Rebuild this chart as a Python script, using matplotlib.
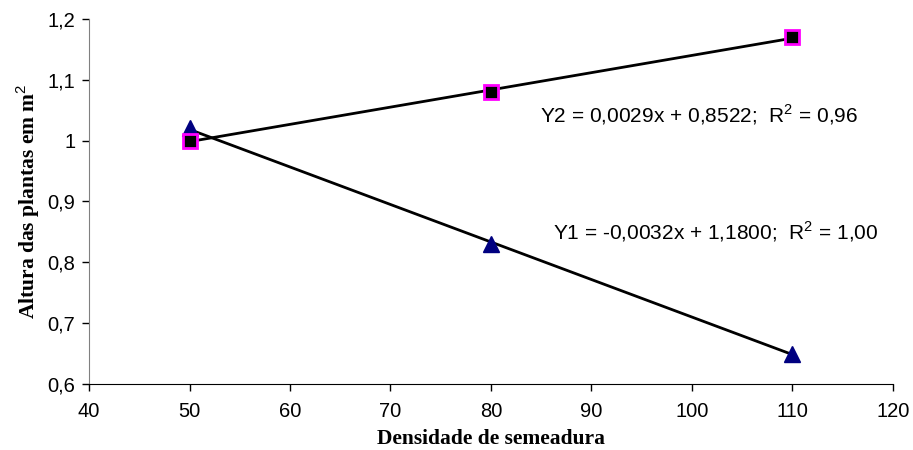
import numpy as np
import matplotlib.pyplot as plt

densidade = [50, 80, 110]
y1_altura = [1.02, 0.83, 0.65]
y2_altura = [1.00, 1.08, 1.17]
eq_y1 = "Y1 = -0,0032x + 1,1800;  R$^2$ = 1,00"
eq_y2 = "Y2 = 0,0029x + 0,8522;  R$^2$ = 0,96"
xticks = [40, 50, 60, 70, 80, 90, 100, 110, 120]
yticks = [0.6, 0.7, 0.8, 0.9, 1.0, 1.1, 1.2]
ytick_labels = ["0,6", "0,7", "0,8", "0,9", "1", "1,1", "1,2"]

plt.rcParams['font.family'] = ['Liberation Sans', 'DejaVu Sans']
plt.rcParams['mathtext.fontset'] = 'custom'
plt.rcParams['mathtext.rm'] = 'Liberation Sans'

fig = plt.figure(figsize=(9.13, 4.5), dpi=100)
ax = fig.add_axes([0.0975, 0.1467, 0.8805, 0.8113])

x = np.array(densidade)
# trend lines
c1 = np.polyfit(x, y1_altura, 1)
c2 = np.polyfit(x, y2_altura, 1)
ax.plot(x, np.polyval(c1, x), color='black', lw=2, zorder=2)
ax.plot(x, np.polyval(c2, x), color='black', lw=2, zorder=2)

ax.plot(densidade, y1_altura, linestyle='none', marker='^', ms=12,
        mfc='#000080', mec='#000080', zorder=3)
ax.plot(densidade, y2_altura, linestyle='none', marker='s', ms=10,
        mfc='black', mec='#ff00ff', mew=2, zorder=4)

ax.text(84.9, 1.043, eq_y2, fontsize=15, va='center', ha='left')
ax.text(86.2, 0.85, eq_y1, fontsize=15, va='center', ha='left')

ax.set_xlim(40, 120)
ax.set_ylim(0.6, 1.2)
ax.set_xticks(xticks)
ax.set_yticks(yticks)
ax.set_yticklabels(ytick_labels)
ax.tick_params(labelsize=14.5, length=5, width=1, direction='out')
ax.tick_params(axis='x', pad=8)
ax.tick_params(axis='y', pad=5)
ax.spines['top'].set_visible(False)
ax.spines['right'].set_visible(False)
ax.spines['left'].set_color('#808080')
ax.spines['bottom'].set_color('black')

ax.set_xlabel("Densidade de semeadura", fontsize=15.5, fontweight='bold',
              family=['Liberation Serif'], labelpad=6)
ax.set_ylabel("Altura das plantas em m$^2$", fontsize=15.5, fontweight='bold',
              family=['Liberation Serif'], labelpad=4)

fig.savefig("out.png", dpi=100)
